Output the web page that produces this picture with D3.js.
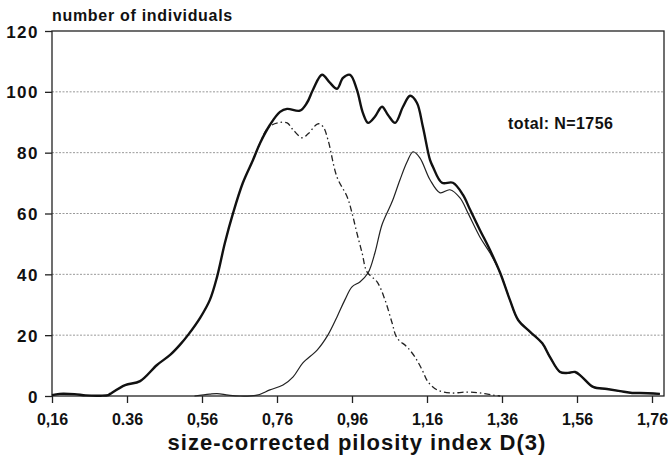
<!DOCTYPE html>
<html>
<head>
<meta charset="utf-8">
<script src="https://cdn.jsdelivr.net/npm/d3@7"></script>
<style>
  body { margin: 0; background: #fff; }
  text { font-family: "Liberation Sans", Arial, sans-serif; font-weight: bold; fill: #111; }
</style>
</head>
<body>
<div id="chart"></div>
<script>
// pilosity index distribution
const xTicks = [0.16, 0.36, 0.56, 0.76, 0.96, 1.16, 1.36, 1.56, 1.76];
const xTickLabels = ['0,16', '0.36', '0,56', '0,76', '0,96', '1,16', '1,36', '1,56', '1,76'];
const yTicks = [0, 20, 40, 60, 80, 100, 120];

// total sample
const totalX = [0.16, 0.18, 0.22, 0.25, 0.29, 0.31, 0.315, 0.355, 0.395, 0.44, 0.475, 0.501, 0.523, 0.555, 0.581, 0.6, 0.621, 0.643, 0.669, 0.696, 0.715, 0.741, 0.768, 0.787, 0.821, 0.84, 0.856, 0.88, 0.901, 0.92, 0.936, 0.955, 0.973, 0.989, 1.003, 1.021, 1.04, 1.056, 1.075, 1.096, 1.115, 1.133, 1.149, 1.168, 1.176, 1.2, 1.229, 1.256, 1.275, 1.301, 1.328, 1.355, 1.381, 1.403, 1.435, 1.467, 1.488, 1.515, 1.536, 1.555, 1.573, 1.603, 1.64, 1.675, 1.707, 1.728, 1.781];
const totalN = [0.3, 0.7, 0.6, 0.2, 0.1, 0.3, 0.7, 3.6, 4.9, 10.2, 13.5, 16.8, 20.1, 25.7, 31.6, 39.1, 50.3, 60.2, 70.1, 77.6, 83.2, 89.1, 93.4, 94.4, 93.8, 96.4, 100.7, 105.6, 103.0, 101.0, 104.6, 105.6, 100.7, 93.1, 89.8, 91.8, 95.1, 92.4, 89.8, 95.1, 98.7, 96.4, 88.5, 77.6, 75.3, 70.1, 70.1, 66.1, 61.2, 54.6, 48.0, 40.5, 31.6, 25.0, 21.1, 17.4, 12.8, 7.9, 7.6, 7.9, 6.3, 3.0, 2.3, 1.6, 1.0, 1.0, 0.7];

// left group (dash-dot)
const leftX = [0.696, 0.715, 0.736, 0.763, 0.787, 0.803, 0.827, 0.843, 0.869, 0.883, 0.896, 0.92, 0.947, 0.96, 0.973, 0.987, 1.0, 1.027, 1.048, 1.067, 1.08, 1.107, 1.128, 1.147, 1.163, 1.187, 1.221, 1.267, 1.301, 1.336, 1.355];
const leftN = [77.6, 83.2, 88.2, 89.8, 89.8, 87.5, 84.9, 86.2, 89.5, 88.5, 84.2, 72.0, 65.5, 60.2, 53.6, 47.0, 40.8, 37.5, 31.6, 24.0, 19.1, 16.1, 12.8, 8.6, 4.6, 2.0, 1.0, 1.3, 1.0, 0.3, 0];

// right group (thin solid)
const rightX = [0.54, 0.58, 0.6, 0.63, 0.66, 0.707, 0.741, 0.776, 0.803, 0.829, 0.867, 0.896, 0.92, 0.941, 0.96, 0.981, 1.003, 1.021, 1.04, 1.061, 1.069, 1.088, 1.107, 1.123, 1.141, 1.168, 1.195, 1.221, 1.248, 1.269, 1.301, 1.328, 1.355, 1.381, 1.403, 1.435, 1.467, 1.488, 1.515, 1.536, 1.555, 1.573, 1.603, 1.64, 1.675, 1.707, 1.728, 1.781];
const rightN = [0, 0.6, 0.8, 0.3, 0, 0.3, 2.0, 3.6, 6.3, 10.9, 15.1, 20.1, 26.0, 31.6, 35.9, 37.5, 40.5, 47.0, 56.3, 62.2, 64.5, 71.1, 77.0, 80.3, 78.3, 71.1, 66.8, 67.8, 65.1, 60.2, 52.3, 47.0, 40.5, 31.6, 25.0, 21.1, 17.4, 12.8, 7.9, 7.6, 7.9, 6.3, 3.0, 2.3, 1.6, 1.0, 1.0, 0.7];

const width = 668, height = 459;
const margin = {top: 31, right: 4, bottom: 63, left: 52};

const x = d3.scaleLinear().domain([0.16, 1.792]).range([margin.left, width - margin.right]);
const y = d3.scaleLinear().domain([0, 120]).range([height - margin.bottom, margin.top]);

const svg = d3.select('#chart').append('svg')
    .attr('width', width)
    .attr('height', height);

// dotted grid
svg.append('g')
    .selectAll('line')
    .data(yTicks.filter(d => d > 0 && d < 120))
    .enter().append('line')
    .attr('x1', x.range()[0]).attr('x2', x.range()[1])
    .attr('y1', d => y(d)).attr('y2', d => y(d))
    .attr('stroke', '#999')
    .attr('stroke-width', 1)
    .attr('stroke-dasharray', '2,1.5');

// frame
svg.append('rect')
    .attr('x', x.range()[0]).attr('y', y(120))
    .attr('width', x.range()[1] - x.range()[0])
    .attr('height', y(0) - y(120))
    .attr('fill', 'none')
    .attr('stroke', '#222')
    .attr('stroke-width', 1.3);

const xAxis = svg.append('g')
    .attr('transform', `translate(0,${y(0)})`)
    .call(d3.axisBottom(x).tickValues(xTicks).tickSize(7).tickPadding(11)
        .tickFormat((d, i) => xTickLabels[i]));
xAxis.select('.domain').remove();
xAxis.selectAll('line').attr('stroke', '#222').attr('stroke-width', 1.3);
xAxis.selectAll('text').attr('font-size', '16px').attr('font-family', '"Liberation Sans", Arial, sans-serif').attr('font-weight', 'bold');

const yAxis = svg.append('g')
    .attr('transform', `translate(${x.range()[0]},0)`)
    .call(d3.axisLeft(y).tickValues(yTicks).tickSize(7).tickPadding(6));
yAxis.select('.domain').remove();
yAxis.selectAll('line').attr('stroke', '#222').attr('stroke-width', 1.3);
yAxis.selectAll('text').attr('font-size', '17px').attr('letter-spacing', '1.5px')
    .attr('font-family', '"Liberation Sans", Arial, sans-serif').attr('font-weight', 'bold').attr('dy', '0.36em');

const line = d3.line()
    .x(d => x(d[0]))
    .y(d => y(Math.max(0, d[1])))
    .curve(d3.curveCatmullRom.alpha(0.5));

const zip = (xs, ys) => xs.map((v, i) => [v, ys[i]]);

svg.append('path')
    .datum(zip(leftX, leftN))
    .attr('d', line)
    .attr('fill', 'none')
    .attr('stroke', '#222')
    .attr('stroke-width', 1.3)
    .attr('stroke-dasharray', '6,3,1.5,3');

svg.append('path')
    .datum(zip(rightX, rightN))
    .attr('d', line)
    .attr('fill', 'none')
    .attr('stroke', '#222')
    .attr('stroke-width', 1.2);

svg.append('path')
    .datum(zip(totalX, totalN))
    .attr('d', line)
    .attr('fill', 'none')
    .attr('stroke', '#111')
    .attr('stroke-width', 2.4);

svg.append('text')
    .attr('x', 52)
    .attr('y', 21)
    .attr('font-size', '16px')
    .attr('letter-spacing', '0.7px')
    .text('number of individuals');

svg.append('text')
    .attr('x', 508)
    .attr('y', 129)
    .attr('font-size', '16px')
    .attr('letter-spacing', '0.4px')
    .text('total: N=1756');

svg.append('text')
    .attr('x', 357)
    .attr('y', 450)
    .attr('text-anchor', 'middle')
    .attr('font-size', '22px')
    .attr('letter-spacing', '1px')
    .text('size-corrected pilosity index D(3)');
</script>
</body>
</html>
